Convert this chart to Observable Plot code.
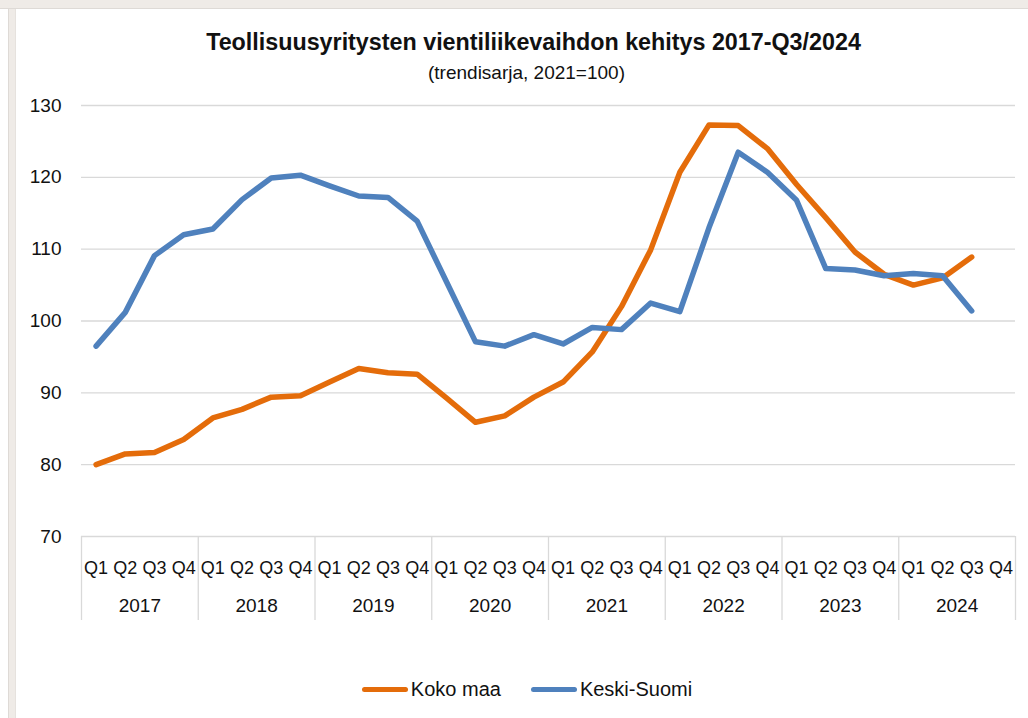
<!DOCTYPE html>
<html>
<head>
<meta charset="utf-8">
<script src="https://cdn.jsdelivr.net/npm/d3@7"></script>
<script src="https://cdn.jsdelivr.net/npm/@observablehq/plot@0.6"></script>
<style>
  html, body { margin: 0; padding: 0; background: #ffffff; }
  body { width: 1028px; height: 718px; position: relative; overflow: hidden; font-family: "Liberation Sans", Arial, sans-serif; }
  #topband { position: absolute; left: 0; top: 0; width: 1028px; height: 8px; background: #efebe7; border-bottom: 1px solid #dedad6; }
  #leftband { position: absolute; left: 8px; top: 9px; width: 6px; height: 709px; background: #efebe7; border-left: 1px solid #dedad6; border-right: 1px solid #e6e2de; }
  #chart { position: absolute; left: 0; top: 0; }
  #legend { position: absolute; left: 0; top: 677px; width: 1028px; height: 24px; display: flex; justify-content: center; align-items: center; padding-left: 26px; box-sizing: border-box; font-size: 20px; color: #111; }
  .item { display: flex; align-items: center; margin: 0 15px; }
  .sw { display: inline-block; width: 46px; height: 5px; border-radius: 3px; margin-right: 3px; }
</style>
</head>
<body>
<div id="topband"></div>
<div id="leftband"></div>
<div id="chart"></div>
<div id="legend"></div>
<script>
const title = "Teollisuusyritysten vientiliikevaihdon kehitys 2017-Q3/2024";
const subtitle = "(trendisarja, 2021=100)";
const quarters = ["Q1", "Q2", "Q3", "Q4"];
const years = [2017, 2018, 2019, 2020, 2021, 2022, 2023, 2024];
const seriesNames = ["Koko maa", "Keski-Suomi"];
const seriesColors = ["#E46C0A", "#4F81BD"];
const yTicks = [70, 80, 90, 100, 110, 120, 130];

// 2017 Q1 ... 2024 Q3
const kokoMaa = [
  80.0, 81.5, 81.7, 83.5,
  86.5, 87.7, 89.4, 89.6,
  91.5, 93.4, 92.8, 92.6,
  89.3, 85.9, 86.8, 89.4,
  91.5, 95.7, 102.0, 109.9,
  120.7, 127.3, 127.2, 124.0,
  119.0, 114.4, 109.6, 106.5,
  105.0, 106.0, 108.9
];
const keskiSuomi = [
  96.5, 101.2, 109.1, 112.0,
  112.8, 116.9, 119.9, 120.3,
  118.8, 117.4, 117.2, 113.9,
  105.5, 97.1, 96.5, 98.1,
  96.8, 99.1, 98.8, 102.5,
  101.3, 113.0, 123.5, 120.7,
  116.8, 107.3, 107.1, 106.3,
  106.6, 106.3, 101.4
];

const nQ = years.length * quarters.length;
const data = [
  ...kokoMaa.map((v, i) => ({ x: i + 0.5, v, s: seriesNames[0] })),
  ...keskiSuomi.map((v, i) => ({ x: i + 0.5, v, s: seriesNames[1] }))
];
const qTicks = d3.range(nQ).map(i => i + 0.5);
const yearTicks = years.map((y, i) => i * 4 + 2);
const dividerTicks = d3.range(years.length + 1).map(i => i * 4);

const chart = Plot.plot({
  width: 1028,
  height: 650,
  marginTop: 105,
  marginBottom: 114,
  marginLeft: 81,
  marginRight: 13,
  style: { background: "transparent", fontFamily: "'Liberation Sans', Arial, sans-serif", color: "#111" },
  x: { domain: [0, nQ], axis: null, label: null },
  y: { domain: [70, 130], axis: null, label: null },
  color: { domain: seriesNames, range: seriesColors },
  marks: [
    Plot.gridY(yTicks, { stroke: "#d9d9d9", strokeOpacity: 1, strokeWidth: 1.3 }),
    Plot.axisY({ ticks: yTicks, tickSize: 0, tickPadding: 20, fontSize: 19, anchor: "left", label: null }),
    Plot.axisX({ ticks: dividerTicks, tickSize: 84, tickFormat: () => "", stroke: "#d9d9d9", strokeWidth: 1.3, label: null }),
    Plot.axisX({ ticks: qTicks, tickSize: 0, tickPadding: 25, fontSize: 18, tickFormat: d => quarters[Math.floor(d) % 4], label: null }),
    Plot.axisX({ ticks: yearTicks, tickSize: 0, tickPadding: 62, fontSize: 19, tickFormat: d => String(years[(d - 2) / 4]), label: null }),
    Plot.line(data, { x: "x", y: "v", z: "s", stroke: "s", strokeWidth: 5.5, strokeLinejoin: "round", strokeLinecap: "round" }),
    Plot.text([title], { text: d => d, frameAnchor: "top", lineAnchor: "middle", dx: -15, dy: -63, fontSize: 23.3, fontWeight: "bold", fill: "#111" }),
    Plot.text([subtitle], { text: d => d, frameAnchor: "top", lineAnchor: "middle", dx: -22, dy: -33, fontSize: 19, fill: "#111" })
  ]
});
document.getElementById("chart").appendChild(chart);

const legend = document.getElementById("legend");
seriesNames.forEach((name, i) => {
  const item = document.createElement("div");
  item.className = "item";
  const sw = document.createElement("span");
  sw.className = "sw";
  sw.style.background = seriesColors[i];
  const label = document.createElement("span");
  label.textContent = name;
  item.appendChild(sw);
  item.appendChild(label);
  legend.appendChild(item);
});
</script>
</body>
</html>
